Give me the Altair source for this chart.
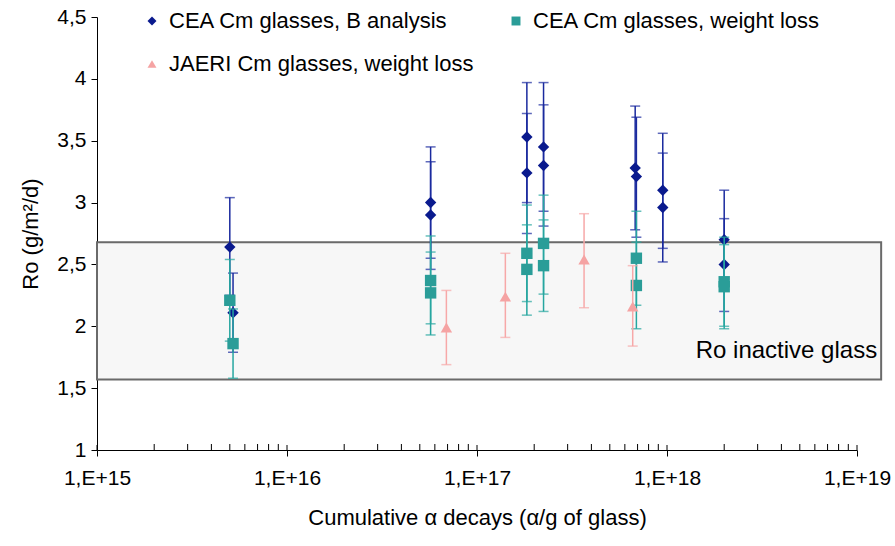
import altair as alt
import pandas as pd

# ---- data ----
b_x = [5.0e15, 5.2e15, 5.7e16, 5.7e16, 1.83e17, 1.83e17, 2.24e17, 2.24e17,
       6.8e17, 6.9e17, 9.5e17, 9.5e17, 2.0e18, 2.0e18]
b_y = [2.64, 2.11, 3.00, 2.90, 3.53, 3.24, 3.45, 3.30, 3.28, 3.21, 3.10, 2.96, 2.70, 2.50]
b_lo = [2.25, 1.79, 2.55, 2.46, 3.00, 2.75, 2.93, 2.81, 2.78, 2.72, 2.63, 2.52, 2.30, 2.12]
b_hi = [3.04, 2.43, 3.45, 3.33, 3.97, 3.72, 3.97, 3.79, 3.78, 3.69, 3.56, 3.40, 3.10, 2.87]

w_x = [5.0e15, 5.2e15, 5.7e16, 5.7e16, 1.83e17, 1.83e17, 2.24e17, 2.24e17,
       6.9e17, 6.9e17, 2.0e18, 2.0e18]
w_y = [2.21, 1.86, 2.37, 2.27, 2.59, 2.46, 2.67, 2.49, 2.55, 2.33, 2.36, 2.32]
w_lo = [1.88, 1.58, 2.02, 1.93, 2.20, 2.09, 2.26, 2.12, 2.17, 1.98, 2.00, 1.98]
w_hi = [2.54, 2.14, 2.73, 2.60, 2.98, 2.82, 3.06, 2.86, 2.93, 2.68, 2.72, 2.66]

j_x = [6.9e16, 1.41e17, 3.66e17, 6.6e17]
j_y = [1.99, 2.24, 2.54, 2.16]
j_lo = [1.69, 1.91, 2.15, 1.84]
j_hi = [2.29, 2.59, 2.91, 2.49]

series_names = ["CEA Cm glasses, B analysis", "CEA Cm glasses, weight loss",
                "JAERI Cm glasses, weight loss"]
marker_colors = ["#0a1a8e", "#2a9d98", "#f5a3a3"]
bar_colors = ["#1a2a9e", "#26a6a0", "#f7a8a8"]
shapes = ["diamond", "square", "triangle-up"]
legend_order = [0, 2, 1]  # legend fills column by column

band_lo, band_hi = 1.57, 2.68
band_x0, band_x1 = 1e15, 1.34e19
band_label = "Ro inactive glass"

major_ticks = [1e15, 1e16, 1e17, 1e18, 1e19]
minor_ticks = [m * 10 ** e for e in range(15, 19) for m in range(2, 10)]
y_ticks = [1, 1.5, 2, 2.5, 3, 3.5, 4, 4.5]

# ---- tables ----
rows = []
for s, (xs, ys, los, his) in enumerate([(b_x, b_y, b_lo, b_hi), (w_x, w_y, w_lo, w_hi),
                                        (j_x, j_y, j_lo, j_hi)]):
    for x, y, lo, hi in zip(xs, ys, los, his):
        rows.append(dict(x=x, y=y, lo=lo, hi=hi, series=series_names[s],
                         order=s, barcolor=bar_colors[s]))
df = pd.DataFrame(rows)

band_df = pd.DataFrame([dict(x=band_x0, x2=band_x1, y=band_lo, y2=band_hi,
                             label=band_label, ly=1.80)])
minor_df = pd.DataFrame(dict(x=minor_ticks))
major_df = pd.DataFrame(dict(x=major_ticks))

FONT = "Liberation Sans"
W, H = 760, 433

xscale = alt.Scale(type="log", domain=[1e15, 1e19], nice=False)
yscale = alt.Scale(domain=[1, 4.5], nice=False, zero=False)

xaxis = alt.Axis(values=major_ticks, labelExpr="'1,E+' + round(log(datum.value)/LN10)",
                 title="Cumulative α decays (α/g of glass)", grid=False, tickSize=6,
                 labelPadding=11, titlePadding=19, labelFlush=False)
yaxis = alt.Axis(values=y_ticks, labelExpr="replace(format(datum.value, '.1~f'), '.', ',')",
                 title="Ro (g/m²/d)", grid=False, tickSize=6, labelPadding=5,
                 titlePadding=14)

X = alt.X("x:Q", scale=xscale, axis=xaxis)
Y = alt.Y("y:Q", scale=yscale, axis=yaxis)

band = alt.Chart(band_df).mark_rect(fill="#f7f7f7", stroke="#6a6a6a", strokeWidth=2).encode(
    x=X, x2="x2:Q", y=Y, y2="y2:Q")
band_text = alt.Chart(band_df).mark_text(align="right", baseline="middle", dx=-4,
                                          font=FONT, fontSize=24, color="black").encode(
    x=alt.X("x2:Q", scale=xscale), y=alt.Y("ly:Q", scale=yscale), text="label:N")

minor = alt.Chart(minor_df).mark_rule(color="black", strokeWidth=1).encode(
    x=X, y=alt.value(H), y2=alt.value(H - 6))
major = alt.Chart(major_df).mark_rule(color="black", strokeWidth=1).encode(
    x=X, y=alt.value(H), y2=alt.value(H - 5))

leg_domain = [series_names[i] for i in legend_order]
leg_colors = [marker_colors[i] for i in legend_order]
leg_shapes = [shapes[i] for i in legend_order]

layers = [band, band_text, minor, major]
for s in range(3):
    d = df[df.order == s]
    base = alt.Chart(d)
    bars = base.mark_rule(strokeWidth=1.5).encode(
        x=X, y=alt.Y("lo:Q", scale=yscale), y2="hi:Q",
        color=alt.Color("barcolor:N", scale=None))
    caps_hi = base.mark_tick(thickness=1.5, size=10, orient="horizontal").encode(
        x=X, y=alt.Y("hi:Q", scale=yscale), color=alt.Color("barcolor:N", scale=None))
    caps_lo = base.mark_tick(thickness=1.5, size=10, orient="horizontal").encode(
        x=X, y=alt.Y("lo:Q", scale=yscale), color=alt.Color("barcolor:N", scale=None))
    pts = base.mark_point(filled=True, opacity=1, size=130).encode(
        x=X, y=Y,
        color=alt.Color("series:N", scale=alt.Scale(domain=leg_domain, range=leg_colors),
                        legend=alt.Legend(title=None)),
        shape=alt.Shape("series:N", scale=alt.Scale(domain=leg_domain, range=leg_shapes),
                        legend=alt.Legend(title=None)))
    layers += [bars, caps_hi, caps_lo, pts]

chart = alt.layer(*layers).properties(
    width=W, height=H,
    autosize=alt.AutoSizeParams(type="none"),
    padding={"left": 97, "top": 17, "right": 38, "bottom": 96},
).configure_view(stroke=None).configure_axis(
    labelFont=FONT, titleFont=FONT, labelFontSize=21, titleFontSize=22,
    labelColor="black", titleColor="black", titleFontWeight="normal",
    domainColor="black", tickColor="black", domainWidth=1, tickWidth=1,
).configure_legend(
    orient="none", legendX=44, legendY=-7, columns=2, columnPadding=31, rowPadding=21,
    labelFont=FONT, labelFontSize=22, labelColor="black", symbolSize=80,
    symbolOpacity=1, padding=0, labelOffset=6, labelLimit=0,
)

chart.save("out.html", embed_options={"renderer": "svg", "actions": False})
